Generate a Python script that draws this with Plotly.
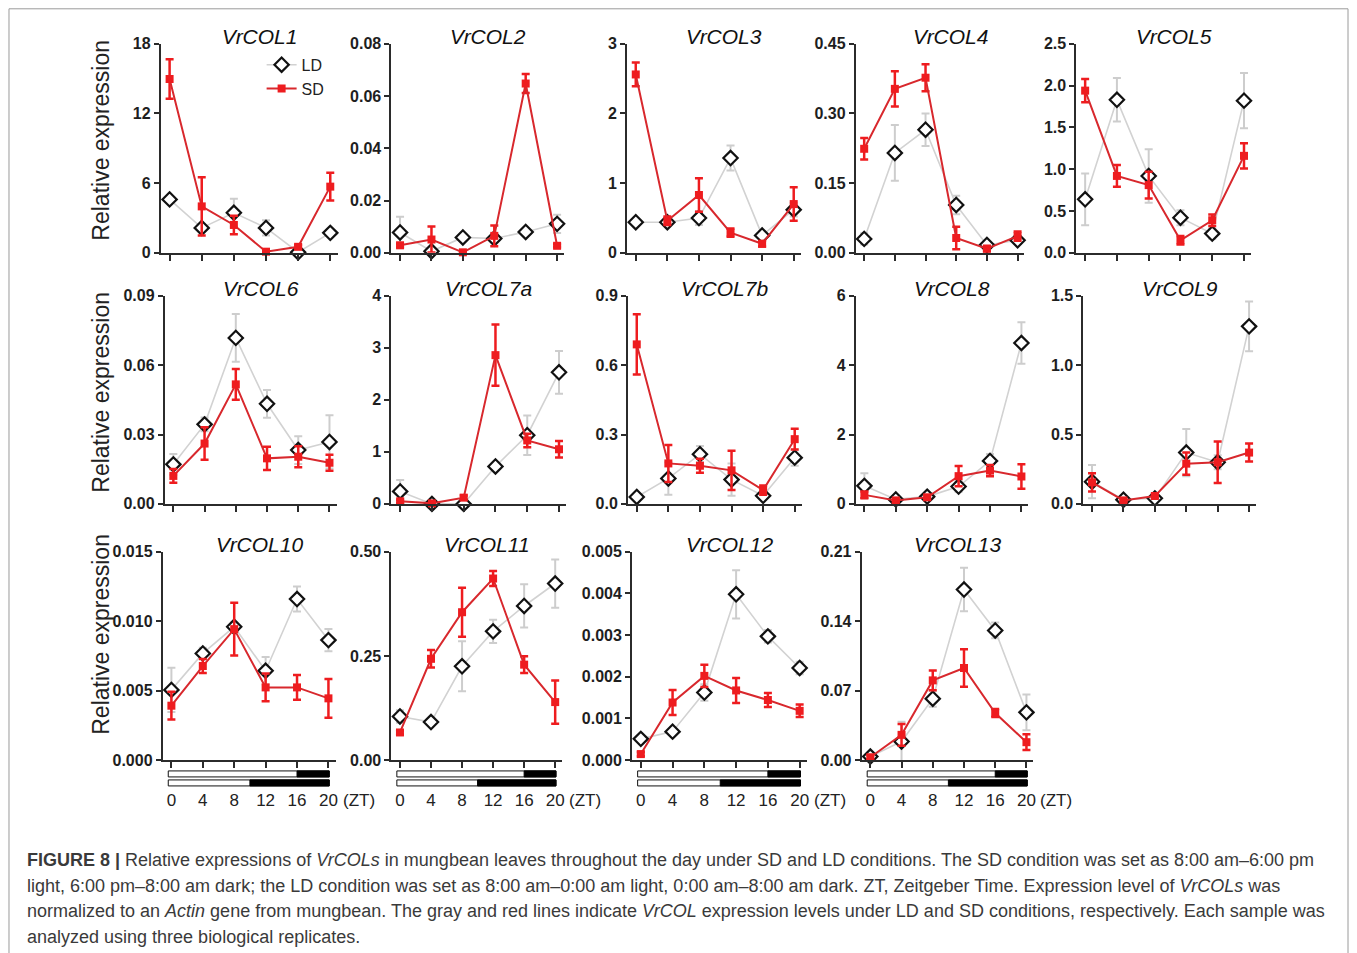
import plotly.graph_objects as go

# ---------------- data ----------------
ZT = [0, 4, 8, 12, 16, 20]
GENES = ["VrCOL1", "VrCOL2", "VrCOL3", "VrCOL4", "VrCOL5",
         "VrCOL6", "VrCOL7a", "VrCOL7b", "VrCOL8", "VrCOL9",
         "VrCOL10", "VrCOL11", "VrCOL12", "VrCOL13"]

COL1_LD = [4.6, 2.15, 3.45, 2.15, 0.05, 1.72]
COL1_LD_ERR = [0.2, 0.3, 1.2, 0.65, 0.1, 0.2]
COL1_SD = [14.97, 4.0, 2.4, 0.1, 0.52, 5.7]
COL1_SD_ERR = [1.7, 2.5, 0.8, 0.1, 0.15, 1.2]

COL2_LD = [0.0078, 0.0006, 0.0059, 0.0055, 0.008, 0.0111]
COL2_LD_ERR = [0.006, 0.0008, 0.0008, 0.0012, 0.001, 0.0035]
COL2_SD = [0.0029, 0.0051, 0.0002, 0.0065, 0.0648, 0.0027]
COL2_SD_ERR = [0.0006, 0.005, 0.0004, 0.004, 0.0036, 0.0006]

COL3_LD = [0.44, 0.44, 0.5, 1.36, 0.25, 0.62]
COL3_LD_ERR = [0.04, 0.04, 0.1, 0.18, 0.06, 0.1]
COL3_SD = [2.56, 0.46, 0.83, 0.29, 0.13, 0.7]
COL3_SD_ERR = [0.17, 0.06, 0.24, 0.06, 0.04, 0.24]

COL4_LD = [0.03, 0.215, 0.265, 0.103, 0.017, 0.027]
COL4_LD_ERR = [0.012, 0.06, 0.035, 0.02, 0.005, 0.008]
COL4_SD = [0.224, 0.353, 0.377, 0.032, 0.009, 0.036]
COL4_SD_ERR = [0.023, 0.038, 0.029, 0.024, 0.006, 0.01]

COL5_LD = [0.64, 1.83, 0.92, 0.42, 0.23, 1.82]
COL5_LD_ERR = [0.31, 0.26, 0.32, 0.09, 0.06, 0.33]
COL5_SD = [1.94, 0.92, 0.81, 0.15, 0.39, 1.16]
COL5_SD_ERR = [0.14, 0.13, 0.16, 0.05, 0.07, 0.15]

COL6_LD = [0.0171, 0.0344, 0.0718, 0.0433, 0.0233, 0.0268]
COL6_LD_ERR = [0.0045, 0.003, 0.0103, 0.006, 0.006, 0.0115]
COL6_SD = [0.0121, 0.0261, 0.0517, 0.0197, 0.0204, 0.0178]
COL6_SD_ERR = [0.003, 0.007, 0.0066, 0.005, 0.0045, 0.0035]

COL7A_LD = [0.24, 0.0, 0.0, 0.72, 1.32, 2.53]
COL7A_LD_ERR = [0.22, 0.02, 0.02, 0.03, 0.38, 0.41]
COL7A_SD = [0.05, 0.01, 0.12, 2.86, 1.22, 1.05]
COL7A_SD_ERR = [0.03, 0.02, 0.04, 0.59, 0.13, 0.16]

COL7B_LD = [0.03, 0.11, 0.215, 0.105, 0.035, 0.2]
COL7B_LD_ERR = [0.01, 0.07, 0.035, 0.07, 0.01, 0.035]
COL7B_SD = [0.69, 0.175, 0.165, 0.145, 0.06, 0.28]
COL7B_SD_ERR = [0.13, 0.08, 0.03, 0.085, 0.02, 0.045]

COL8_LD = [0.52, 0.13, 0.21, 0.5, 1.24, 4.64]
COL8_LD_ERR = [0.36, 0.05, 0.05, 0.15, 0.2, 0.6]
COL8_SD = [0.26, 0.1, 0.19, 0.8, 0.96, 0.79]
COL8_SD_ERR = [0.1, 0.04, 0.06, 0.29, 0.16, 0.35]

COL9_LD = [0.16, 0.03, 0.04, 0.37, 0.3, 1.28]
COL9_LD_ERR = [0.12, 0.01, 0.01, 0.17, 0.05, 0.18]
COL9_SD = [0.155, 0.025, 0.057, 0.29, 0.3, 0.37]
COL9_SD_ERR = [0.065, 0.01, 0.015, 0.08, 0.15, 0.065]

COL10_LD = [0.00505, 0.00768, 0.0096, 0.00643, 0.0116, 0.00864]
COL10_LD_ERR = [0.0016, 0.0004, 0.0003, 0.001, 0.0009, 0.0008]
COL10_SD = [0.00391, 0.00677, 0.00943, 0.00523, 0.00523, 0.00444]
COL10_SD_ERR = [0.001, 0.0005, 0.0019, 0.001, 0.0009, 0.0014]

COL11_LD = [0.1045, 0.091, 0.225, 0.309, 0.37, 0.424]
COL11_LD_ERR = [0.015, 0.005, 0.06, 0.028, 0.052, 0.058]
COL11_SD = [0.066, 0.243, 0.355, 0.436, 0.229, 0.139]
COL11_SD_ERR = [0.005, 0.021, 0.059, 0.018, 0.02, 0.052]

COL12_LD = [0.000506, 0.00068, 0.00162, 0.00398, 0.00297, 0.00221]
COL12_LD_ERR = [0.00005, 0.00005, 0.0002, 0.00058, 0.00015, 0.00015]
COL12_SD = [0.00014, 0.00138, 0.00202, 0.00167, 0.00144, 0.00118]
COL12_SD_ERR = [0.00005, 0.0003, 0.00027, 0.0003, 0.00017, 0.00015]

COL13_LD = [0.0034, 0.0186, 0.0618, 0.172, 0.1307, 0.048]
COL13_LD_ERR = [0.002, 0.02, 0.008, 0.022, 0.008, 0.018]
COL13_SD = [0.0027, 0.0253, 0.0803, 0.0928, 0.0473, 0.0179]
COL13_SD_ERR = [0.002, 0.011, 0.01, 0.019, 0.004, 0.008]

# y-axis tick settings (max, step, decimals)
Y_MAX = [18, 0.08, 3, 0.45, 2.5, 0.09, 4, 0.9, 6, 1.5, 0.015, 0.50, 0.005, 0.21]
Y_STEP = [6, 0.02, 1, 0.15, 0.5, 0.03, 1, 0.3, 2, 0.5, 0.005, 0.25, 0.001, 0.07]
Y_DEC = [0, 2, 0, 2, 1, 2, 0, 1, 0, 1, 3, 2, 3, 2]
X_TICKS = [0, 4, 8, 12, 16, 20]
LD_LIGHT_HOURS = 16
SD_LIGHT_HOURS = 10

LD_DATA = [COL1_LD, COL2_LD, COL3_LD, COL4_LD, COL5_LD, COL6_LD, COL7A_LD,
           COL7B_LD, COL8_LD, COL9_LD, COL10_LD, COL11_LD, COL12_LD, COL13_LD]
LD_ERRS = [COL1_LD_ERR, COL2_LD_ERR, COL3_LD_ERR, COL4_LD_ERR, COL5_LD_ERR,
           COL6_LD_ERR, COL7A_LD_ERR, COL7B_LD_ERR, COL8_LD_ERR, COL9_LD_ERR,
           COL10_LD_ERR, COL11_LD_ERR, COL12_LD_ERR, COL13_LD_ERR]
SD_DATA = [COL1_SD, COL2_SD, COL3_SD, COL4_SD, COL5_SD, COL6_SD, COL7A_SD,
           COL7B_SD, COL8_SD, COL9_SD, COL10_SD, COL11_SD, COL12_SD, COL13_SD]
SD_ERRS = [COL1_SD_ERR, COL2_SD_ERR, COL3_SD_ERR, COL4_SD_ERR, COL5_SD_ERR,
           COL6_SD_ERR, COL7A_SD_ERR, COL7B_SD_ERR, COL8_SD_ERR, COL9_SD_ERR,
           COL10_SD_ERR, COL11_SD_ERR, COL12_SD_ERR, COL13_SD_ERR]

# ---------------- layout geometry (pixels) ----------------
W, H = 1357, 953
ROW_TOP = [44, 296, 552]
ROW_BOT = [253, 504, 760]
PANEL_ROW = [0, 0, 0, 0, 0, 1, 1, 1, 1, 1, 2, 2, 2, 2]
PANEL_X = [(161, 338), (392, 565), (628, 802), (857, 1026), (1078, 1253),
           (165, 337), (392, 567), (629, 803), (857, 1030), (1085, 1258),
           (163, 336), (392, 563), (633, 808), (863, 1035)]
XR = [-1.1, 20.9]

# vertical calibration of the rendered page (observed: screen = 8.2 + 0.982*y)
Y_OFF, Y_SCALE = 8.2, 0.982


def px(x):
    return x / W


def py(y):
    return 1 - ((y - Y_OFF) / Y_SCALE) / H


FONT = "Liberation Sans, Arial, Helvetica, sans-serif"
AXIS_COLOR = "#2b2b2b"
LD_LINE = "#d2d2d2"
LD_ERRC = "#cdcdcd"
SD_LINE = "#d8282d"
SD_MARK = "#ee1c1f"

fig = go.Figure()
layout = dict(
    width=W, height=H,
    margin=dict(l=0, r=0, t=0, b=0),
    paper_bgcolor="white", plot_bgcolor="white",
    showlegend=True,
    legend=dict(x=px(262), y=py(48), xanchor="left", yanchor="top",
                bgcolor="rgba(0,0,0,0)", font=dict(family=FONT, size=16, color="#222"),
                tracegroupgap=0, itemwidth=30),
    font=dict(family=FONT),
)
annotations = []
shapes = []

for i, gene in enumerate(GENES):
    k = i + 1
    xa = "x" if k == 1 else f"x{k}"
    ya = "y" if k == 1 else f"y{k}"
    r = PANEL_ROW[i]
    x0p, x1p = PANEL_X[i]
    bottom_row = (r == 2)

    fig.add_trace(go.Scatter(
        x=ZT, y=LD_DATA[i], xaxis=xa, yaxis=ya, name="LD",
        mode="lines+markers", showlegend=(i == 0), cliponaxis=False,
        line=dict(color=LD_LINE, width=1.6),
        marker=dict(symbol="diamond", size=11, color="white",
                    line=dict(color="#111", width=2.2)),
        error_y=dict(type="data", array=LD_ERRS[i], visible=True,
                     color=LD_ERRC, thickness=2, width=4),
    ))
    fig.add_trace(go.Scatter(
        x=ZT, y=SD_DATA[i], xaxis=xa, yaxis=ya, name="SD",
        mode="lines+markers", showlegend=(i == 0), cliponaxis=False,
        line=dict(color=SD_LINE, width=2),
        marker=dict(symbol="square", size=8, color=SD_MARK,
                    line=dict(color=SD_MARK, width=0)),
        error_y=dict(type="data", array=SD_ERRS[i], visible=True,
                     color=SD_MARK, thickness=2.5, width=4),
    ))

    n_ticks = int(round(Y_MAX[i] / Y_STEP[i])) + 1
    yvals = [round(j * Y_STEP[i], 6) for j in range(n_ticks)]
    ytext = [f"<b>{v:.{Y_DEC[i]}f}</b>" for v in yvals]

    xkey = "xaxis" if k == 1 else f"xaxis{k}"
    ykey = "yaxis" if k == 1 else f"yaxis{k}"
    xdict = dict(
        domain=[px(x0p), px(x1p)], anchor=ya, range=XR,
        showline=True, linecolor=AXIS_COLOR, linewidth=2,
        ticks="outside", ticklen=6, tickwidth=2, tickcolor=AXIS_COLOR,
        tickvals=X_TICKS, showgrid=False, zeroline=False, fixedrange=True,
        showticklabels=bottom_row,
        tickfont=dict(family=FONT, size=17, color="#222"),
    )
    if bottom_row:
        xdict["ticklabelstandoff"] = 18
    layout[xkey] = xdict
    layout[ykey] = dict(
        domain=[py(ROW_BOT[r]), py(ROW_TOP[r])], anchor=xa,
        range=[0, Y_MAX[i]], tickvals=yvals, ticktext=ytext,
        showline=True, linecolor=AXIS_COLOR, linewidth=2,
        ticks="outside", ticklen=5, tickwidth=2, tickcolor=AXIS_COLOR,
        showgrid=False, zeroline=False, fixedrange=True,
        tickfont=dict(family=FONT, size=16, color="#1e1e1e"),
    )

    # panel title
    annotations.append(dict(
        text=f"<i>{gene}</i>", xref="paper", yref="paper",
        x=px((x0p + x1p) / 2 + 10), y=py(ROW_TOP[r] - 7),
        xanchor="center", yanchor="middle", showarrow=False,
        font=dict(family=FONT, size=21, color="#111"),
    ))

    if bottom_row:
        span = XR[1] - XR[0]

        def fx(v):
            return (v - XR[0]) / span
        bar_start, bar_end = -0.4, 20.1
        for (yt, yb, light) in [(771, 777, LD_LIGHT_HOURS), (780, 786, SD_LIGHT_HOURS)]:
            shapes.append(dict(type="rect", xref=f"{xa} domain", yref="paper",
                               x0=fx(bar_start), x1=fx(bar_end), y0=py(yb), y1=py(yt),
                               fillcolor="white", line=dict(color="#111", width=1)))
            shapes.append(dict(type="rect", xref=f"{xa} domain", yref="paper",
                               x0=fx(light), x1=fx(bar_end), y0=py(yb), y1=py(yt),
                               fillcolor="#000", line=dict(color="#000", width=1)))
        annotations.append(dict(
            text="(ZT)", xref=f"{xa} domain", yref="paper",
            x=1.0, y=py(801), xanchor="left", yanchor="middle", xshift=5,
            showarrow=False, font=dict(family=FONT, size=17, color="#222"),
        ))

# y-axis titles
for yc in [140, 392, 634]:
    annotations.append(dict(
        text="Relative expression", xref="paper", yref="paper",
        x=px(101), y=py(yc), xanchor="center", yanchor="middle",
        textangle=-90, showarrow=False,
        font=dict(family=FONT, size=23, color="#222"),
    ))

# caption
CAPTION = [
    "<b>FIGURE 8 |</b> Relative expressions of <i>VrCOLs</i> in mungbean leaves throughout the day under SD and LD conditions. The SD condition was set as 8:00 am–6:00 pm",
    "light, 6:00 pm–8:00 am dark; the LD condition was set as 8:00 am–0:00 am light, 0:00 am–8:00 am dark. ZT, Zeitgeber Time. Expression level of <i>VrCOLs</i> was",
    "normalized to an <i>Actin</i> gene from mungbean. The gray and red lines indicate <i>VrCOL</i> expression levels under LD and SD conditions, respectively. Each sample was",
    "analyzed using three biological replicates.",
]
for j, line in enumerate(CAPTION):
    annotations.append(dict(
        text=line, xref="paper", yref="paper", x=px(25), y=py(860 + j * 25.7),
        xanchor="left", yanchor="middle", showarrow=False,
        font=dict(family=FONT, size=18, color="#3a3a3a"),
    ))

# frame
shapes.append(dict(type="rect", xref="paper", yref="paper",
                   x0=px(9), x1=px(1350), y0=py(975), y1=py(9),
                   line=dict(color="#9a9a9a", width=1), fillcolor="rgba(0,0,0,0)"))

layout["annotations"] = annotations
layout["shapes"] = shapes
fig.update_layout(**layout)
fig.write_html("out.html")
